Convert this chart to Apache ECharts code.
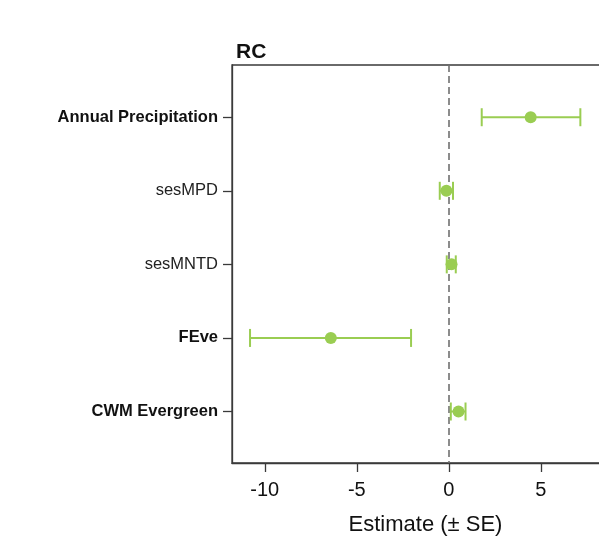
<!DOCTYPE html>
<html>
<head>
<meta charset="utf-8">
<script src="https://cdn.jsdelivr.net/npm/echarts@6/dist/echarts.min.js"></script>
<style>html,body{margin:0;padding:0;background:#fff}#c{width:599px;height:540px}</style>
</head>
<body>
<div id="c"></div>
<script>
const categories = ['Annual Precipitation', 'sesMPD', 'sesMNTD', 'FEve', 'CWM Evergreen'];
const boldLabel = [true, false, false, true, true];
const estimates = [4.45, -0.13, 0.15, -6.41, 0.53];
const lower = [1.79, -0.49, -0.11, -10.8, 0.11];
const upper = [7.15, 0.23, 0.38, -2.05, 0.91];
const xTicks = [-10, -5, 0, 5];
const xTitle = 'Estimate (\u00b1 SE)';
const panelTitle = 'RC';

const FONT = "'Liberation Sans', Arial, sans-serif";
const GREEN = '#9acd52';
const AXIS = '#3a3a3a';

const pos = categories.map((c, i) => i + 1);
const pointData = estimates.map((v, i) => [v, pos[i]]);
const barData = categories.map((c, i) => [lower[i], upper[i], pos[i]]);

const chart = echarts.init(document.getElementById('c'), null, {renderer: 'canvas'});
chart.setOption({
  animation: false,
  backgroundColor: '#fff',
  title: {
    text: panelTitle, left: 231, top: 37,
    textStyle: {fontFamily: FONT, fontSize: 21, fontWeight: 'bold', color: '#111'}
  },
  grid: {
    left: 232, top: 65, width: 387, height: 398,
    outerBoundsMode: 'none', containLabel: false,
    show: true, borderColor: AXIS, borderWidth: 1.3, backgroundColor: 'transparent'
  },
  xAxis: {
    type: 'value', min: -11.78, max: 9.25,
    name: xTitle, nameLocation: 'middle', nameGap: 51,
    nameTextStyle: {fontFamily: FONT, fontSize: 22, color: '#111'},
    axisLine: {show: true, onZero: false, lineStyle: {color: AXIS, width: 1.3}},
    axisTick: {show: true, customValues: xTicks, length: 9, lineStyle: {color: AXIS, width: 1.3}},
    axisLabel: {customValues: xTicks, margin: 17, fontFamily: FONT, fontSize: 20, color: '#111'},
    splitLine: {show: false}
  },
  yAxis: {
    type: 'value', min: 0.29, max: 5.7, inverse: true,
    axisLine: {show: true, onZero: false, lineStyle: {color: AXIS, width: 1.3}},
    axisTick: {show: true, customValues: pos, length: 9, lineStyle: {color: AXIS, width: 1.3}},
    axisLabel: {
      customValues: pos, margin: 14,
      formatter: function (v) {
        const i = Math.round(v) - 1;
        return boldLabel[i] ? '{b|' + categories[i] + '}' : '{n|' + categories[i] + '}';
      },
      rich: {
        b: {fontFamily: FONT, fontSize: 16.5, fontWeight: 'bold', color: '#111'},
        n: {fontFamily: FONT, fontSize: 16.5, color: '#222'}
      }
    },
    splitLine: {show: false}
  },
  series: [
    {
      type: 'custom',
      data: barData,
      encode: {x: [0, 1], y: 2},
      renderItem: function (params, api) {
        const a = api.coord([api.value(0), api.value(2)]);
        const b = api.coord([api.value(1), api.value(2)]);
        const h = 9;
        const st = {stroke: GREEN, lineWidth: 2};
        return {
          type: 'group',
          children: [
            {type: 'line', shape: {x1: a[0], y1: a[1], x2: b[0], y2: b[1]}, style: st},
            {type: 'line', shape: {x1: a[0], y1: a[1] - h, x2: a[0], y2: a[1] + h}, style: st},
            {type: 'line', shape: {x1: b[0], y1: b[1] - h, x2: b[0], y2: b[1] + h}, style: st}
          ]
        };
      },
      z: 2
    },
    {
      type: 'scatter',
      data: pointData,
      symbol: 'circle',
      symbolSize: 12,
      itemStyle: {color: GREEN, opacity: 1},
      z: 3,
      markLine: {
        silent: true,
        symbol: ['none', 'none'],
        label: {show: false},
        lineStyle: {color: '#707070', type: [7, 4], width: 1.6},
        data: [{xAxis: 0}],
        z: 1
      }
    }
  ]
});
</script>
</body>
</html>
